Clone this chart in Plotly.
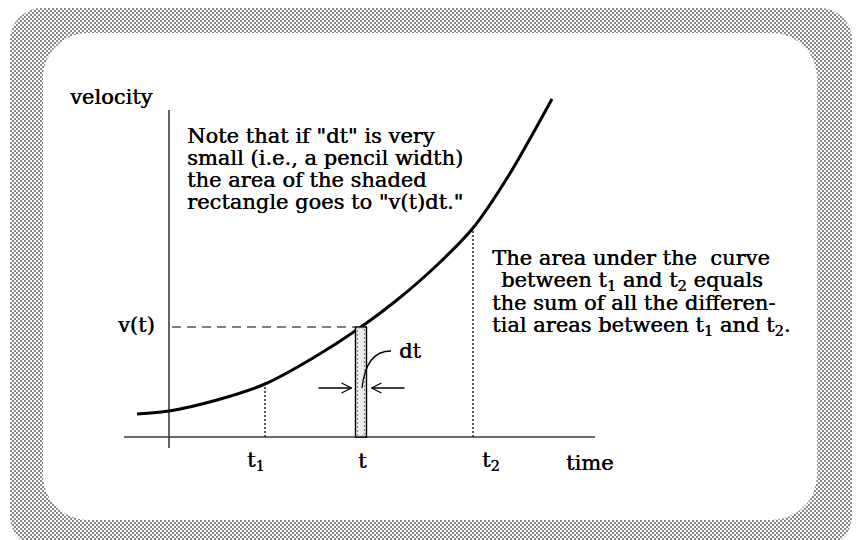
import base64
import plotly.graph_objects as go

# ---- data (drawing units: origin where the two axes cross) ----
curve_time = [-32, 0, 48, 96, 144, 192, 228, 266, 304, 340, 383]
curve_velocity = [23, 26, 37, 53, 79, 110, 137, 170, 209, 262, 338]

t1, t_mid, t2 = 96, 192, 304          # marked instants
dt = 11                               # width of the differential strip
v_t1, v_t, v_t2 = 53, 110, 209        # curve heights at those instants

time_axis = [-45, 426]                # extent of the time axis
velocity_axis = [-11, 327]            # extent of the velocity axis

tick_labels = ["t<sub>1</sub>", "t", "t<sub>2</sub>"]
note_lines = [
    'Note that if "dt" is very',
    'small (i.e., a pencil width)',
    'the area of the shaded',
    'rectangle goes to "v(t)dt."',
]
area_lines = [
    "The area under the  curve",
    "between t<sub>1</sub> and t<sub>2</sub> equals",
    "the sum of all the differen-",
    "tial areas between t<sub>1</sub> and t<sub>2</sub>.",
]

FONT = "DejaVu Serif"
SIZE = 21
INK = "#000000"
AXIS = "#3c3c3c"

fig = go.Figure()

# axes
fig.add_trace(go.Scatter(x=time_axis, y=[0, 0], mode="lines",
                         line=dict(color=AXIS, width=1.6), hoverinfo="skip"))
fig.add_trace(go.Scatter(x=[0, 0], y=velocity_axis, mode="lines",
                         line=dict(color=AXIS, width=1.6), hoverinfo="skip"))

# dotted drop lines at t1 and t2
for tx, vy in [(t1, v_t1), (t2, v_t2)]:
    fig.add_trace(go.Scatter(x=[tx, tx], y=[0, vy], mode="lines",
                             line=dict(color="#222", width=1.5, dash="2px,2px"),
                             hoverinfo="skip"))

# dashed guide from v(t) on the velocity axis to the strip
fig.add_trace(go.Scatter(x=[3, t_mid - dt / 2], y=[v_t, v_t], mode="lines",
                         line=dict(color="#555", width=1.6, dash="9px,6px"),
                         hoverinfo="skip"))

# the differential strip
x0, x1 = t_mid - dt / 2, t_mid + dt / 2
fig.add_shape(type="rect", x0=x0, x1=x1, y0=0, y1=v_t, xref="x", yref="y",
              fillcolor="#ededed", line=dict(color=INK, width=1.4))
fig.add_shape(type="rect", x0=x0 + 2, x1=x1 - 2, y0=1, y1=v_t - 1, xref="x", yref="y",
              fillcolor="rgba(0,0,0,0)", line=dict(color="#8a8a8a", width=1.2, dash="2px,2px"))
fig.add_trace(go.Scatter(x=[t_mid, t_mid], y=[2, v_t - 2], mode="lines",
                         line=dict(color="#6a6a6a", width=1.2, dash="6px,4px"),
                         hoverinfo="skip"))

# velocity curve
fig.add_trace(go.Scatter(x=curve_time, y=curve_velocity, mode="lines",
                         line=dict(color=INK, width=3, shape="spline", smoothing=0.8),
                         hoverinfo="skip"))

# horizontal arrows pinching the strip
arrow_y = 49
arrow_len = 33
gap = 4
head_len, head_half = 10, 5
left_tip = x0 - gap
right_tip = x1 + gap + 1
fig.add_trace(go.Scatter(
    x=[left_tip - arrow_len, left_tip, None, left_tip - head_len, left_tip, left_tip - head_len,
       None, right_tip + arrow_len, right_tip, None, right_tip + head_len, right_tip, right_tip + head_len],
    y=[arrow_y, arrow_y, None, arrow_y + head_half, arrow_y, arrow_y - head_half,
       None, arrow_y, arrow_y, None, arrow_y + head_half, arrow_y, arrow_y - head_half],
    mode="lines", line=dict(color=INK, width=1.3), hoverinfo="skip"))

# curved leader from the "dt" label down into the strip
dt_label_x, dt_label_y = 228, 86
lead_start = (dt_label_x - 6, dt_label_y)
lead_end = (t_mid + 1, arrow_y)
fig.add_shape(type="path", xref="x", yref="y",
              path=f"M {lead_start[0]},{lead_start[1]} Q {t_mid + 5},{dt_label_y} {lead_end[0]},{lead_end[1]}",
              line=dict(color=INK, width=1.3))
fig.add_trace(go.Scatter(
    x=[lead_end[0] - 3, lead_end[0], lead_end[0] + 3],
    y=[lead_end[1] + 11, lead_end[1], lead_end[1] + 11],
    mode="lines", line=dict(color=INK, width=1.3), hoverinfo="skip"))


def label(x, y, text, anchor="left"):
    fig.add_annotation(x=x, y=y, xref="x", yref="y", text=text, showarrow=False,
                       xanchor=anchor, yanchor="middle",
                       font=dict(family=FONT, size=SIZE, color=INK,
                                 shadow="0.4px 0px 0px #000000"))


label(-14, 340, "velocity", "right")
label(395, -26, "time")
label(-12, v_t + 2, "v(t)", "right")
label(dt_label_x, dt_label_y, "dt")
for tx, txt, dx in zip([t1, t_mid, t2], tick_labels, [-20, 1, 7]):
    label(tx + dx, -24, txt, "left" if txt != "t" else "center")

note_y = [301, 279, 257, 235]
for yy, line in zip(note_y, note_lines):
    label(16, yy, line)

area_y = [179, 156, 134, 111]
area_x = [321, 330, 321, 321]
for xx, yy, line in zip(area_x, area_y, area_lines):
    label(xx, yy, line)

# checkered rounded frame around the drawing
frame_svg = (
    "<svg xmlns='http://www.w3.org/2000/svg' width='856' height='540'>"
    "<defs><pattern id='c' width='4' height='4' patternUnits='userSpaceOnUse'>"
    "<rect width='4' height='4' fill='#ffffff'/>"
    "<rect width='2' height='2' fill='#888888'/>"
    "<rect x='2' y='2' width='2' height='2' fill='#888888'/>"
    "</pattern></defs>"
    "<rect x='10' y='8' width='842' height='540' rx='32' fill='url(#c)'/>"
    "<rect x='43' y='33' width='774' height='487' rx='45' fill='#ffffff'/>"
    "</svg>"
)
frame_uri = "data:image/svg+xml;base64," + base64.b64encode(frame_svg.encode()).decode()
fig.add_layout_image(source=frame_uri, xref="paper", yref="paper", x=0, y=1,
                     sizex=1, sizey=1, sizing="stretch", xanchor="left", yanchor="top",
                     layer="below")

fig.update_layout(
    width=856, height=540, margin=dict(l=0, r=0, t=0, b=0),
    paper_bgcolor="#ffffff", plot_bgcolor="rgba(0,0,0,0)",
    showlegend=False,
    xaxis=dict(range=[-169, 687], visible=False, fixedrange=True),
    yaxis=dict(range=[-103, 437], visible=False, fixedrange=True),
)

fig.write_html("out.html", config={"displayModeBar": False})
